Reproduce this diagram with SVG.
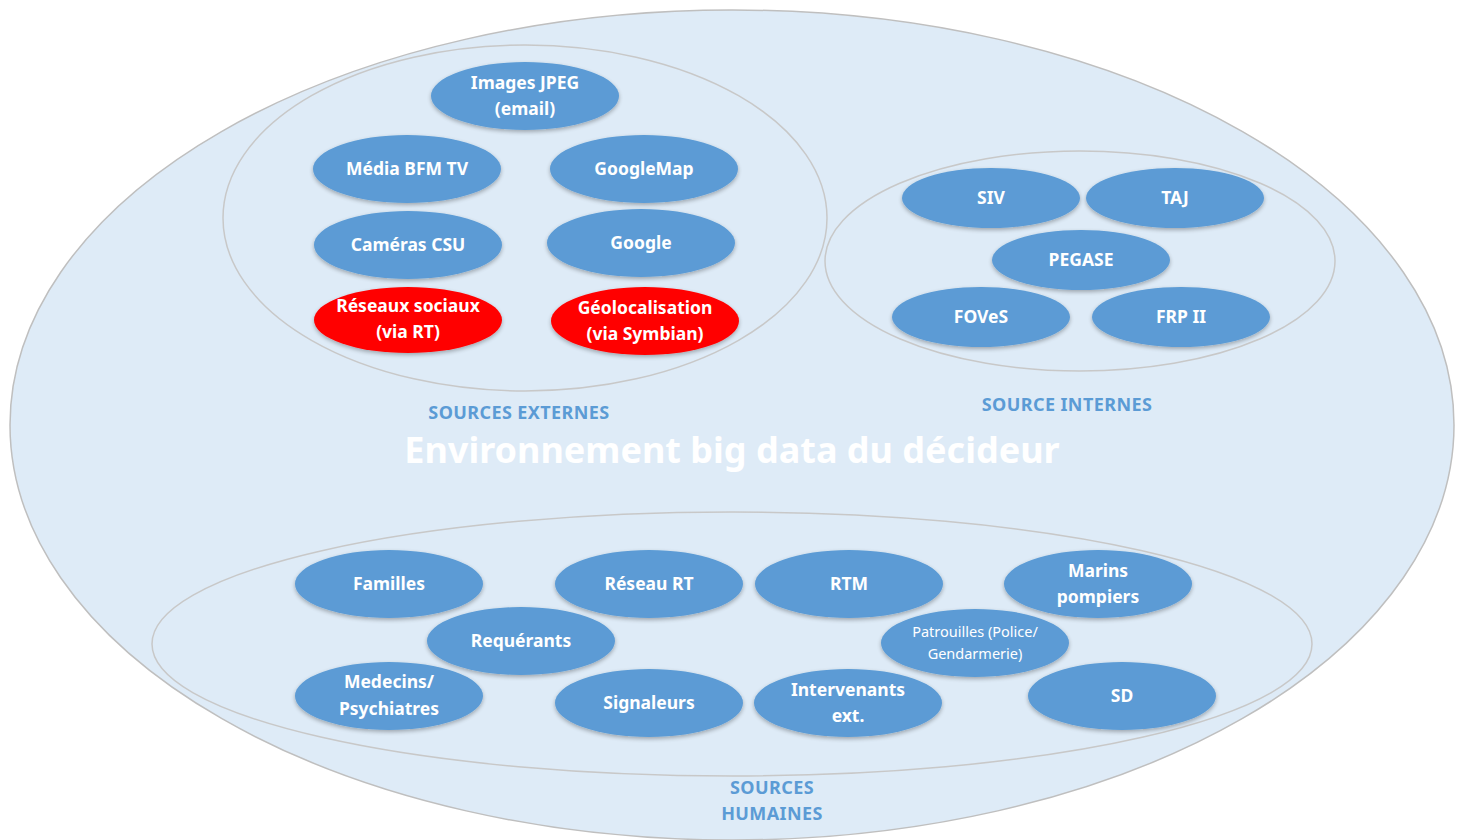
<svg xmlns="http://www.w3.org/2000/svg" width="1461" height="840" viewBox="0 0 1461 840">
<defs>
<filter id="sh" x="-20%" y="-20%" width="140%" height="150%">
<feGaussianBlur in="SourceAlpha" stdDeviation="2"/>
<feOffset dx="0" dy="2" result="b"/>
<feComponentTransfer><feFuncA type="linear" slope="0.3"/></feComponentTransfer>
<feMerge><feMergeNode/><feMergeNode in="SourceGraphic"/></feMerge>
</filter>
</defs>
<style>
.bg{fill:#DEEBF7;stroke:#BFBFBF;stroke-width:1.5}
.grp{fill:#DEEBF7;stroke:#C8C8C8;stroke-width:1.5}
.n{fill:#5B9BD5;filter:url(#sh)}
.r{fill:#FF0000;filter:url(#sh)}
.t{font-family:"Noto Sans","Open Sans",sans-serif;font-weight:bold;font-size:17.5px;fill:#FFFFFF;text-anchor:middle}
.ts{font-family:"Noto Sans","Open Sans",sans-serif;font-size:14.5px;fill:#FFFFFF;text-anchor:middle}
.lab{font-family:"Noto Sans","Open Sans",sans-serif;font-weight:bold;font-size:18px;letter-spacing:0.4px;fill:#5B9BD5;text-anchor:middle}
.title{font-family:"Noto Sans","Open Sans",sans-serif;font-weight:bold;font-size:36px;fill:#FFFFFF;text-anchor:middle}
</style>
<rect width="1461" height="840" fill="#FFFFFF"/>
<g id="environnement">
<ellipse class="bg" cx="732" cy="425" rx="722" ry="415"/>
<text class="title" x="732" y="463">Environnement big data du décideur</text>
</g>
<g id="sources-externes">
<ellipse class="grp" cx="525" cy="218" rx="302" ry="173"/>
<text class="lab" x="519" y="419">SOURCES EXTERNES</text>
</g>
<g id="source-internes">
<ellipse class="grp" cx="1080" cy="261" rx="255" ry="110"/>
<text class="lab" x="1067" y="411">SOURCE INTERNES</text>
</g>
<g id="sources-humaines">
<ellipse class="grp" cx="732" cy="644" rx="580" ry="132"/>
<text class="lab" x="772" y="794">SOURCES</text>
<text class="lab" x="772" y="820">HUMAINES</text>
</g>
<g id="connectors"></g>
<g id="images-jpeg"><ellipse class="n" cx="525" cy="96" rx="94" ry="34"/><text class="t" x="525" y="89">Images JPEG</text><text class="t" x="525" y="115">(email)</text></g>
<g id="media-bfm"><ellipse class="n" cx="407" cy="169" rx="94" ry="34"/><text class="t" x="407" y="175">Média BFM TV</text></g>
<g id="googlemap"><ellipse class="n" cx="644" cy="169" rx="94" ry="34"/><text class="t" x="644" y="175">GoogleMap</text></g>
<g id="cameras-csu"><ellipse class="n" cx="408" cy="245" rx="94" ry="34"/><text class="t" x="408" y="251">Caméras CSU</text></g>
<g id="google"><ellipse class="n" cx="641" cy="243" rx="94" ry="34"/><text class="t" x="641" y="249">Google</text></g>
<g id="reseaux-sociaux"><ellipse class="r" cx="408" cy="320" rx="94" ry="33"/><text class="t" x="408" y="312">Réseaux sociaux</text><text class="t" x="408" y="338">(via RT)</text></g>
<g id="geolocalisation"><ellipse class="r" cx="645" cy="321" rx="94" ry="34"/><text class="t" x="645" y="314">Géolocalisation</text><text class="t" x="645" y="340">(via Symbian)</text></g>
<g id="siv"><ellipse class="n" cx="991" cy="198" rx="89" ry="30"/><text class="t" x="991" y="204">SIV</text></g>
<g id="taj"><ellipse class="n" cx="1175" cy="198" rx="89" ry="30"/><text class="t" x="1175" y="204">TAJ</text></g>
<g id="pegase"><ellipse class="n" cx="1081" cy="260" rx="89" ry="30"/><text class="t" x="1081" y="266">PEGASE</text></g>
<g id="foves"><ellipse class="n" cx="981" cy="317" rx="89" ry="30"/><text class="t" x="981" y="323">FOVeS</text></g>
<g id="frp-ii"><ellipse class="n" cx="1181" cy="317" rx="89" ry="30"/><text class="t" x="1181" y="323">FRP II</text></g>
<g id="familles"><ellipse class="n" cx="389" cy="584" rx="94" ry="34"/><text class="t" x="389" y="590">Familles</text></g>
<g id="reseau-rt"><ellipse class="n" cx="649" cy="584" rx="94" ry="34"/><text class="t" x="649" y="590">Réseau RT</text></g>
<g id="rtm"><ellipse class="n" cx="849" cy="584" rx="94" ry="34"/><text class="t" x="849" y="590">RTM</text></g>
<g id="marins-pompiers"><ellipse class="n" cx="1098" cy="584" rx="94" ry="34"/><text class="t" x="1098" y="577">Marins</text><text class="t" x="1098" y="603">pompiers</text></g>
<g id="requerants"><ellipse class="n" cx="521" cy="641" rx="94" ry="34"/><text class="t" x="521" y="647">Requérants</text></g>
<g id="patrouilles"><ellipse class="n" cx="975" cy="643" rx="94" ry="34"/><text class="ts" x="975" y="637">Patrouilles (Police/</text><text class="ts" x="975" y="659">Gendarmerie)</text></g>
<g id="medecins"><ellipse class="n" cx="389" cy="696" rx="94" ry="34"/><text class="t" x="389" y="688">Medecins/</text><text class="t" x="389" y="715">Psychiatres</text></g>
<g id="signaleurs"><ellipse class="n" cx="649" cy="703" rx="94" ry="34"/><text class="t" x="649" y="709">Signaleurs</text></g>
<g id="intervenants"><ellipse class="n" cx="848" cy="703" rx="94" ry="34"/><text class="t" x="848" y="696">Intervenants</text><text class="t" x="848" y="722">ext.</text></g>
<g id="sd"><ellipse class="n" cx="1122" cy="696" rx="94" ry="34"/><text class="t" x="1122" y="702">SD</text></g>
</svg>
